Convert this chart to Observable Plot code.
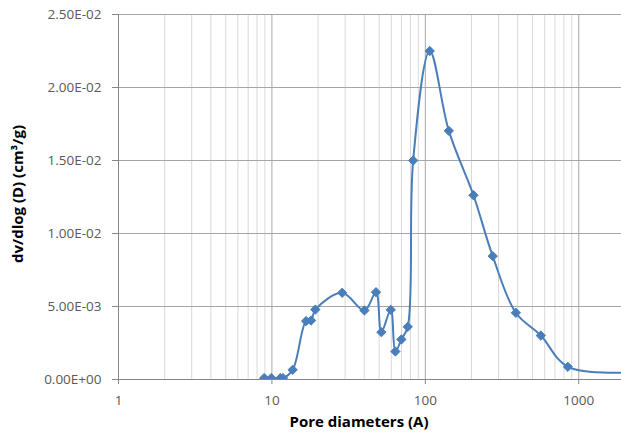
<!DOCTYPE html>
<html><head><meta charset="utf-8">
<script src="https://cdn.jsdelivr.net/npm/d3@7"></script>
<script src="https://cdn.jsdelivr.net/npm/@observablehq/plot@0.6"></script>
<style>
body{margin:0;background:#fff}
svg{display:block}
</style>
</head><body><div id="chart"></div>
<script>
const poreDiameters = [8.9, 9.9, 11.35, 11.8, 13.65, 16.7, 18.0, 19.2, 28.7, 40.1, 47.7, 51.7, 59.5, 63.8, 69.8, 76.8, 83.3, 106.9, 142.3, 206, 275, 389, 566, 849, 2500];
const dvdlogD = [0.0001, 0.0001, 0.0001, 0.0001, 0.00066, 0.0040, 0.00404, 0.00479, 0.00594, 0.00473, 0.00598, 0.00324, 0.00477, 0.00192, 0.00274, 0.00361, 0.0150, 0.0225, 0.01703, 0.01262, 0.00845, 0.00457, 0.00301, 0.00087, 0.0005];
const xTicks = [1, 10, 100, 1000];
const yTicks = [0, 0.005, 0.01, 0.015, 0.02, 0.025];
const xMinor = [2,3,4,5,6,7,8,9,20,30,40,50,60,70,80,90,200,300,400,500,600,700,800,900];
const xTitle = "Pore diameters (A)";
const yTitle = "dv/dlog (D) (cm³/g)";

const data = poreDiameters.map((d, i) => ({d, v: dvdlogD[i]}));
const fmt = v => {
  if (v === 0) return "0.00E+00";
  const [m, e] = v.toExponential(2).split("e");
  const n = +e;
  return m + "E" + (n < 0 ? "-" : "+") + String(Math.abs(n)).padStart(2, "0");
};
const blue = "#4a7ebb";

const chart = Plot.plot({
  width: 621, height: 435,
  marginLeft: 118, marginRight: 0, marginTop: 14, marginBottom: 56,
  style: {fontFamily: "'Open Sans', Lato, sans-serif", fontSize: "13.5px", color: "#595959", background: "#fff"},
  x: {type: "log", domain: [1, 1900]},
  y: {domain: [0, 0.025]},
  marks: [
    Plot.ruleX(xMinor, {stroke: "#d9d9d9", strokeWidth: 1}),
    Plot.ruleX(xTicks, {stroke: "#a6a6a6", strokeWidth: 1}),
    Plot.ruleY(yTicks, {stroke: "#a6a6a6", strokeWidth: 1}),
    Plot.axisX(xTicks, {tickFormat: d => String(d), tickSize: 5, stroke: "#868686", fill: "#595959", tickPadding: 11, label: null}),
    Plot.axisY(yTicks, {tickFormat: fmt, tickSize: 6, stroke: "#868686", fill: "#595959", tickPadding: 11, label: null}),
    Plot.text([xTitle], {frameAnchor: "bottom", textAnchor: "middle", lineAnchor: "middle", dy: 43, dx: -11, fontWeight: "bold", fontSize: 15, fill: "#000"}),
    Plot.text([yTitle], {frameAnchor: "left", textAnchor: "middle", lineAnchor: "middle", rotate: -90, dx: -100, dy: -3, fontWeight: "bold", fontSize: 15, fill: "#000"}),
    Plot.ruleX([1], {stroke: "#868686"}),
    Plot.ruleY([0], {stroke: "#868686"}),
    Plot.line(data, {x: "d", y: "v", stroke: blue, strokeWidth: 2, curve: "catmull-rom", clip: true}),
    Plot.dot(data, {x: "d", y: "v", symbol: "diamond2", r: 4.2, fill: blue, stroke: blue, strokeWidth: 1, clip: true})
  ]
});
document.getElementById("chart").append(chart);
</script>
</body></html>
